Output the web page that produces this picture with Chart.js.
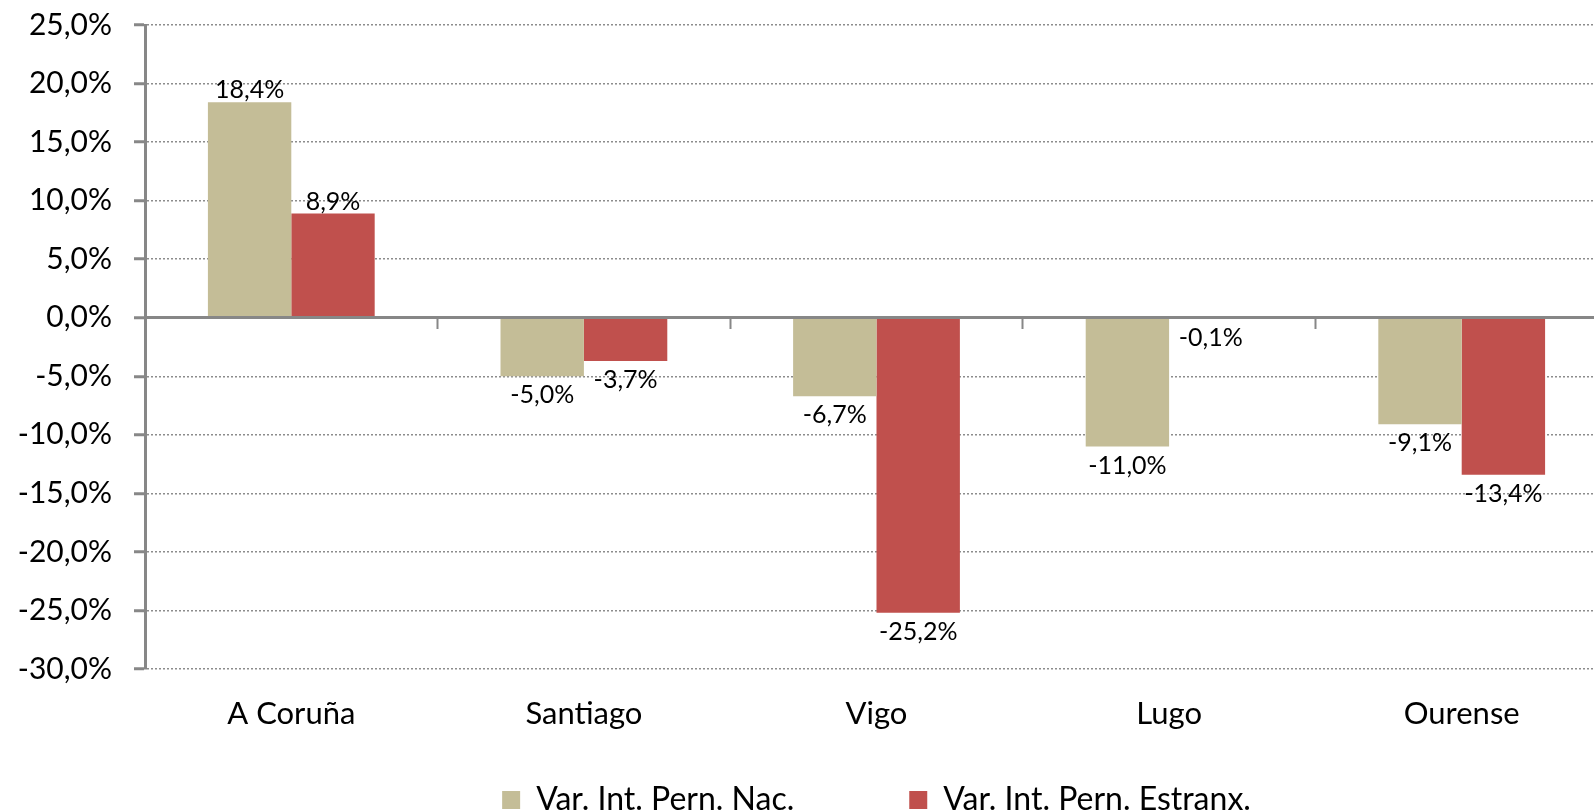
<!DOCTYPE html>
<html><head><meta charset="utf-8">
<script src="https://cdn.jsdelivr.net/npm/chart.js@4"></script>
<style>
html,body{margin:0;padding:0;overflow:hidden;background:#fff}
#wrap{position:absolute;left:0;top:0;width:1610px;height:826px}
</style>
</head><body>
<div id="wrap"><canvas id="c" width="1610" height="826"></canvas></div>
<script>
const categories = ['A Coruña', 'Santiago', 'Vigo', 'Lugo', 'Ourense'];
const seriesNames = ['Var. Int. Pern. Nac.', 'Var. Int. Pern. Estranx.'];
const nacValues = [18.4, -5.0, -6.7, -11.0, -9.1];
const estranxValues = [8.9, -3.7, -25.2, -0.1, -13.4];
const yMin = -30, yMax = 25, yStep = 5;

const FONT = 'Lato, "Noto Sans", sans-serif';
const AXIS = '#878787';
const fmt = v => v.toFixed(1).replace('.', ',') + '%';

Chart.defaults.font.family = FONT;
Chart.defaults.color = '#000';

const dataLabels = {
  id: 'dataLabels',
  afterDatasetsDraw(chart) {
    const ctx = chart.ctx;
    ctx.save();
    ctx.font = '25px ' + FONT;
    ctx.fillStyle = '#000';
    ctx.textAlign = 'center';
    ctx.textBaseline = 'alphabetic';
    chart.data.datasets.forEach((ds, i) => {
      const meta = chart.getDatasetMeta(i);
      meta.data.forEach((bar, j) => {
        const v = ds.data[j];
        const t = fmt(v);
        if (v >= 0) ctx.fillText(t, bar.x, bar.y - 4);
        else ctx.fillText(t, bar.x, bar.y + 27);
      });
    });
    ctx.restore();
  }
};

new Chart(document.getElementById('c'), {
  type: 'bar',
  data: {
    labels: categories,
    datasets: [
      { label: seriesNames[0], data: nacValues, backgroundColor: '#C4BD97', borderWidth: 0,
        categoryPercentage: 0.57, barPercentage: 1.0, xAxisID: 'x', yAxisID: 'y' },
      { label: seriesNames[1], data: estranxValues, backgroundColor: '#C0504D', borderWidth: 0,
        categoryPercentage: 0.57, barPercentage: 1.0, xAxisID: 'x', yAxisID: 'y' }
    ]
  },
  options: {
    responsive: false,
    animation: false,
    layout: { padding: { top: 25, left: 0, right: 2, bottom: 0 } },
    plugins: {
      tooltip: { enabled: false },
      legend: {
        position: 'bottom',
        fullSize: false,
        labels: { font: { size: 32, family: FONT }, color: '#000', boxWidth: 18, boxHeight: 18, padding: 115 }
      }
    },
    scales: {
      y: {
        position: 'left',
        min: yMin, max: yMax,
        ticks: { stepSize: yStep, callback: v => fmt(v), font: { size: 30, family: FONT }, color: '#000', padding: 22 },
        grid: { color: '#8c8c8c', lineWidth: 1.5, tickLength: 11, tickWidth: 3, tickColor: AXIS, tickBorderDash: [] },
        border: { display: true, color: AXIS, width: 3, dash: [2, 2] },
        afterFit: s => { s.width = 145; s.paddingTop = 0; s.paddingBottom = 0; }
      },
      x: {
        position: { y: yMin },
        offset: true,
        grid: { display: false, drawTicks: false, offset: true },
        border: { display: false },
        ticks: { font: { size: 31, family: FONT }, color: '#000', padding: 26, maxRotation: 0 }
      },
      x2: {
        type: 'category',
        labels: categories,
        position: { y: 0 },
        offset: true,
        grid: { offset: true, drawOnChartArea: false, drawTicks: true, tickLength: 10, tickWidth: 2, tickColor: AXIS, color: AXIS },
        border: { display: true, color: AXIS, width: 3, z: 1 },
        ticks: { display: false }
      }
    }
  },
  plugins: [dataLabels]
});
</script>
</body></html>
